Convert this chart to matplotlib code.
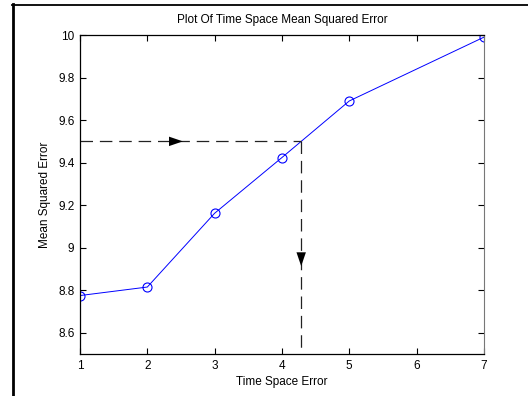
import numpy as np
import matplotlib.pyplot as plt
from matplotlib.lines import Line2D

plt.rcParams['font.family'] = ['Liberation Sans', 'DejaVu Sans']

# data
time_space = [1, 2, 3, 4, 5, 7]
mse = [8.775, 8.815, 9.162, 9.424, 9.69, 9.99]
target_mse = 9.5
x_ticks = [1, 2, 3, 4, 5, 6, 7]
y_ticks = [8.6, 8.8, 9, 9.2, 9.4, 9.6, 9.8, 10]
y_tick_labels = ["8.6", "8.8", "9", "9.2", "9.4", "9.6", "9.8", "10"]

# where the curve crosses the target value
x_cross = float(np.interp(target_mse, mse, time_space))

fig = plt.figure(figsize=(5.28, 3.96), dpi=100)
ax = fig.add_axes([0.1515, 0.106, 0.765, 0.8055])

ax.plot(time_space, mse, color="blue", linewidth=0.7,
        marker="o", markersize=6.5, markerfacecolor="none",
        markeredgecolor="blue", markeredgewidth=0.8)

# dashed guide lines
dash = (0, (10, 5.5))
ax.plot([1, x_cross], [target_mse, target_mse], color="#222222",
        linewidth=0.9, linestyle=dash)
ax.plot([x_cross, x_cross], [target_mse, 8.5], color="#222222",
        linewidth=0.9, linestyle=dash)

# arrows on the guides
head = "-|>,head_width=0.17,head_length=0.5"
ax.annotate("", xy=(2.57, target_mse), xytext=(2.3, target_mse),
            arrowprops=dict(arrowstyle=head, color="black", lw=0,
                            mutation_scale=20))
ax.annotate("", xy=(x_cross, 8.9), xytext=(x_cross, 9.0),
            arrowprops=dict(arrowstyle=head, color="black", lw=0,
                            mutation_scale=20))

ax.set_xlim(1, 7)
ax.set_ylim(8.5, 10)
ax.set_xticks(x_ticks)
ax.set_yticks(y_ticks)
ax.set_yticklabels(y_tick_labels)
ax.tick_params(direction="in", length=4, width=0.8, top=True, right=True,
               labelsize=8.5, colors="black", pad=4)
ax.spines["right"].set_color("#777777")
for s in ["left", "bottom", "top"]:
    ax.spines[s].set_linewidth(0.9)

ax.set_title("Plot Of Time Space Mean Squared Error", fontsize=8.5, pad=9)
ax.set_xlabel("Time Space Error", fontsize=8.5, labelpad=3)
ax.set_ylabel("Mean Squared Error", fontsize=8.5, labelpad=5)

# figure frame lines (left and top)
fig.add_artist(Line2D([12.5 / 528, 12.5 / 528], [0, 1 - 4 / 396],
                      color="black", linewidth=2))
fig.add_artist(Line2D([12 / 528, 1], [1 - 4.5 / 396, 1 - 4.5 / 396],
                      color="black", linewidth=1.3))

fig.savefig("out.png", dpi=100)
